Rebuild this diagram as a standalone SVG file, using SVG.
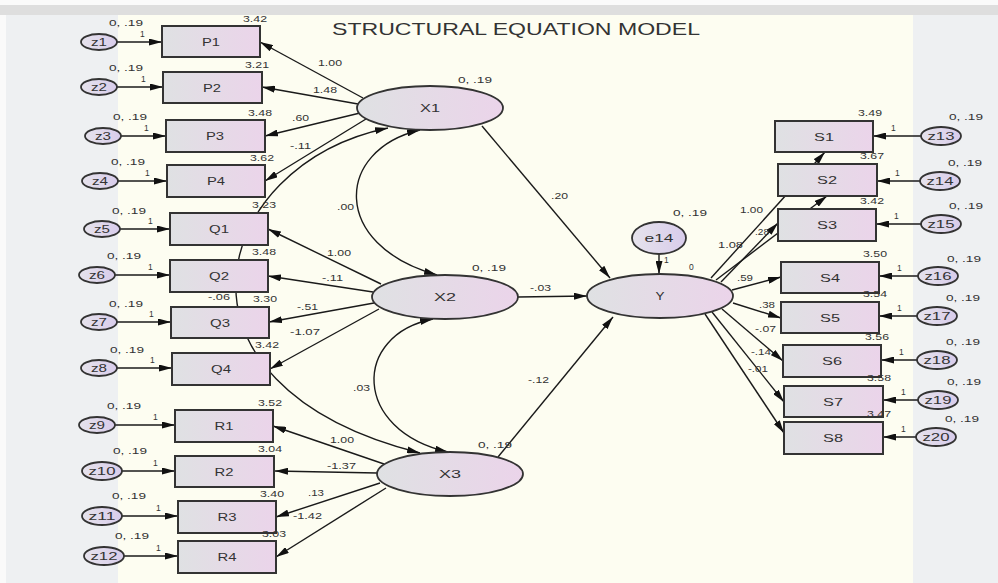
<svg xmlns="http://www.w3.org/2000/svg" width="998" height="583" viewBox="0 0 998 583">
<defs>
<linearGradient id="gb" x1="0" y1="0" x2="1" y2="0"><stop offset="0" stop-color="#dfe1e3"/><stop offset="1" stop-color="#ebd4ea"/></linearGradient>
<linearGradient id="gz" x1="0" y1="0" x2="1" y2="0"><stop offset="0" stop-color="#e6e3ec"/><stop offset="1" stop-color="#d8cceb"/></linearGradient>
<marker id="ah" viewBox="0 0 13 7" refX="13" refY="3.5" markerWidth="13" markerHeight="7" markerUnits="userSpaceOnUse" orient="auto-start-reverse"><path d="M0,0 L13,3.5 L0,7 z" fill="#111"/></marker>
<style>
text{font-family:"Liberation Sans",Arial,sans-serif;fill:#333}
.s{font-size:8.5px}
.n{font-size:11.5px;text-anchor:middle}
.box{fill:url(#gb);stroke:#333;stroke-width:2}
.lat{fill:url(#gb);stroke:#333;stroke-width:1.8}
.err{fill:url(#gz);stroke:#333;stroke-width:1.8}
.c line,.c path{stroke:#1a1a1a;stroke-width:1.4;fill:none;marker-end:url(#ah)}
.c path.cov{marker-start:url(#ah)}
</style>
</defs>
<rect width="998" height="583" fill="#eef0f2"/>
<rect width="998" height="6" fill="#fafafa"/>
<rect y="5" width="998" height="10" fill="#dedede"/>
<rect x="0" y="15" width="6" height="568" fill="#fafafa"/>
<rect x="118" y="15" width="795" height="568" fill="#fdfdf1"/>
<text x="332" y="35" font-size="17" textLength="368" lengthAdjust="spacingAndGlyphs" fill="#222">STRUCTURAL EQUATION MODEL</text>

<g id="connectors" class="c">
<line x1="117" y1="42" x2="162" y2="42"/>
<line x1="117" y1="87" x2="163" y2="87"/>
<line x1="121" y1="136" x2="166" y2="136"/>
<line x1="118" y1="181" x2="167" y2="181"/>
<line x1="120" y1="229" x2="170" y2="229"/>
<line x1="115" y1="275" x2="170" y2="275"/>
<line x1="117" y1="322" x2="171" y2="322"/>
<line x1="117" y1="368" x2="172" y2="368"/>
<line x1="115" y1="425" x2="175" y2="425"/>
<line x1="122" y1="471" x2="175" y2="471"/>
<line x1="122" y1="516" x2="178" y2="516"/>
<line x1="124" y1="556" x2="178" y2="556"/>
<line x1="363" y1="98" x2="260" y2="42"/>
<line x1="358" y1="104" x2="262" y2="87"/>
<line x1="360" y1="113" x2="265" y2="136"/>
<line x1="366" y1="119" x2="265" y2="181"/>
<line x1="381" y1="284" x2="268" y2="229"/>
<line x1="373" y1="292" x2="268" y2="276"/>
<line x1="374" y1="303" x2="269" y2="322"/>
<line x1="379" y1="309" x2="270" y2="369"/>
<line x1="384" y1="464" x2="273" y2="426"/>
<line x1="377" y1="473" x2="275" y2="471"/>
<line x1="380" y1="483" x2="276" y2="517"/>
<line x1="386" y1="488" x2="276" y2="557"/>
<path class="cov" d="M420,130 C335,150 330,245 437,275"/>
<path class="cov" d="M433,319 C352,335 352,430 448,452"/>
<path class="cov" d="M388,128 C210,165 150,385 420,453"/>
<line x1="482" y1="126" x2="610" y2="278"/>
<line x1="518" y1="297" x2="587" y2="296"/>
<line x1="498" y1="457" x2="613" y2="317"/>
<line x1="659" y1="254" x2="659" y2="274"/>
<line x1="711" y1="278" x2="825" y2="152"/>
<line x1="716" y1="280" x2="827" y2="196"/>
<line x1="721" y1="282" x2="778" y2="223"/>
<line x1="732" y1="290" x2="781" y2="277"/>
<line x1="733" y1="303" x2="781" y2="318"/>
<line x1="722" y1="309" x2="783" y2="361"/>
<line x1="712" y1="312" x2="784" y2="402"/>
<line x1="705" y1="314" x2="784" y2="433"/>
<line x1="921" y1="136" x2="873" y2="136"/>
<line x1="920" y1="181" x2="877" y2="181"/>
<line x1="921" y1="224" x2="876" y2="224"/>
<line x1="918" y1="276" x2="879" y2="276"/>
<line x1="917" y1="316" x2="879" y2="316"/>
<line x1="917" y1="360" x2="881" y2="360"/>
<line x1="918" y1="400" x2="883" y2="400"/>
<line x1="916" y1="437" x2="883" y2="437"/>
</g>

<g id="connector-labels" class="s">
<text x="140" y="37">1</text><text x="141" y="82">1</text><text x="144" y="131">1</text><text x="145" y="176">1</text>
<text x="148" y="224">1</text><text x="148" y="270">1</text><text x="149" y="317">1</text><text x="150" y="363">1</text>
<text x="153" y="420">1</text><text x="153" y="466">1</text><text x="156" y="511">1</text><text x="156" y="551">1</text>
<text x="318" y="66" textLength="24" lengthAdjust="spacingAndGlyphs">1.00</text>
<text x="313" y="93" textLength="24" lengthAdjust="spacingAndGlyphs">1.48</text>
<text x="292" y="121" textLength="17" lengthAdjust="spacingAndGlyphs">.60</text>
<text x="290" y="149" textLength="21" lengthAdjust="spacingAndGlyphs">-.11</text>
<text x="327" y="256" textLength="24" lengthAdjust="spacingAndGlyphs">1.00</text>
<text x="322" y="281" textLength="21" lengthAdjust="spacingAndGlyphs">-.11</text>
<text x="297" y="310" textLength="21" lengthAdjust="spacingAndGlyphs">-.51</text>
<text x="290" y="335" textLength="30" lengthAdjust="spacingAndGlyphs">-1.07</text>
<text x="330" y="443" textLength="24" lengthAdjust="spacingAndGlyphs">1.00</text>
<text x="327" y="469" textLength="29" lengthAdjust="spacingAndGlyphs">-1.37</text>
<text x="308" y="496" textLength="16" lengthAdjust="spacingAndGlyphs">.13</text>
<text x="293" y="519" textLength="29" lengthAdjust="spacingAndGlyphs">-1.42</text>
<text x="337" y="210" textLength="17" lengthAdjust="spacingAndGlyphs">.00</text>
<text x="353" y="391" textLength="17" lengthAdjust="spacingAndGlyphs">.03</text>
<text x="208" y="300" textLength="22" lengthAdjust="spacingAndGlyphs">-.06</text>
<text x="551" y="199" textLength="17" lengthAdjust="spacingAndGlyphs">.20</text>
<text x="530" y="291" textLength="21" lengthAdjust="spacingAndGlyphs">-.03</text>
<text x="528" y="383" textLength="21" lengthAdjust="spacingAndGlyphs">-.12</text>
<text x="664" y="263">1</text>
<text x="740" y="213" textLength="23" lengthAdjust="spacingAndGlyphs">1.00</text>
<text x="755" y="235" textLength="14" lengthAdjust="spacingAndGlyphs">.28</text>
<text x="718" y="248" textLength="25" lengthAdjust="spacingAndGlyphs">1.08</text>
<text x="737" y="281" textLength="16" lengthAdjust="spacingAndGlyphs">.59</text>
<text x="759" y="308" textLength="16" lengthAdjust="spacingAndGlyphs">.38</text>
<text x="755" y="332" textLength="21" lengthAdjust="spacingAndGlyphs">-.07</text>
<text x="751" y="355" textLength="20" lengthAdjust="spacingAndGlyphs">-.14</text>
<text x="748" y="372" textLength="20" lengthAdjust="spacingAndGlyphs">-.01</text>
<text x="891" y="131">1</text><text x="895" y="176">1</text><text x="894" y="219">1</text><text x="897" y="271">1</text>
<text x="897" y="311">1</text><text x="899" y="355">1</text><text x="901" y="395">1</text><text x="901" y="432">1</text>
</g>

<g id="z1"><ellipse class="err" cx="99" cy="42" rx="18" ry="8"/><text class="n" x="99" y="46" textLength="16" lengthAdjust="spacingAndGlyphs">z1</text><text class="s" x="109" y="26" textLength="34" lengthAdjust="spacingAndGlyphs">0, .19</text></g>
<g id="z2"><ellipse class="err" cx="99" cy="87" rx="18" ry="8"/><text class="n" x="99" y="91" textLength="16" lengthAdjust="spacingAndGlyphs">z2</text><text class="s" x="109" y="71" textLength="34" lengthAdjust="spacingAndGlyphs">0, .19</text></g>
<g id="z3"><ellipse class="err" cx="103" cy="136" rx="18" ry="8"/><text class="n" x="103" y="140" textLength="16" lengthAdjust="spacingAndGlyphs">z3</text><text class="s" x="113" y="120" textLength="34" lengthAdjust="spacingAndGlyphs">0, .19</text></g>
<g id="z4"><ellipse class="err" cx="100" cy="181" rx="18" ry="8"/><text class="n" x="100" y="185" textLength="16" lengthAdjust="spacingAndGlyphs">z4</text><text class="s" x="111" y="165" textLength="34" lengthAdjust="spacingAndGlyphs">0, .19</text></g>
<g id="z5"><ellipse class="err" cx="102" cy="229" rx="18" ry="8"/><text class="n" x="102" y="233" textLength="16" lengthAdjust="spacingAndGlyphs">z5</text><text class="s" x="112" y="214" textLength="34" lengthAdjust="spacingAndGlyphs">0, .19</text></g>
<g id="z6"><ellipse class="err" cx="97" cy="275" rx="18" ry="8"/><text class="n" x="97" y="279" textLength="16" lengthAdjust="spacingAndGlyphs">z6</text><text class="s" x="107" y="259" textLength="34" lengthAdjust="spacingAndGlyphs">0, .19</text></g>
<g id="z7"><ellipse class="err" cx="99" cy="322" rx="18" ry="8"/><text class="n" x="99" y="326" textLength="16" lengthAdjust="spacingAndGlyphs">z7</text><text class="s" x="109" y="307" textLength="34" lengthAdjust="spacingAndGlyphs">0, .19</text></g>
<g id="z8"><ellipse class="err" cx="99" cy="368" rx="18" ry="8"/><text class="n" x="99" y="372" textLength="16" lengthAdjust="spacingAndGlyphs">z8</text><text class="s" x="110" y="353" textLength="34" lengthAdjust="spacingAndGlyphs">0, .19</text></g>
<g id="z9"><ellipse class="err" cx="97" cy="425" rx="18" ry="8"/><text class="n" x="97" y="429" textLength="16" lengthAdjust="spacingAndGlyphs">z9</text><text class="s" x="107" y="409" textLength="34" lengthAdjust="spacingAndGlyphs">0, .19</text></g>
<g id="z10"><ellipse class="err" cx="102" cy="471" rx="20" ry="9"/><text class="n" x="102" y="475" textLength="27" lengthAdjust="spacingAndGlyphs">z10</text><text class="s" x="113" y="454" textLength="34" lengthAdjust="spacingAndGlyphs">0, .19</text></g>
<g id="z11"><ellipse class="err" cx="102" cy="516" rx="20" ry="9"/><text class="n" x="102" y="520" textLength="27" lengthAdjust="spacingAndGlyphs">z11</text><text class="s" x="112" y="499" textLength="34" lengthAdjust="spacingAndGlyphs">0, .19</text></g>
<g id="z12"><ellipse class="err" cx="104" cy="556" rx="20" ry="9"/><text class="n" x="104" y="560" textLength="27" lengthAdjust="spacingAndGlyphs">z12</text><text class="s" x="115" y="539" textLength="34" lengthAdjust="spacingAndGlyphs">0, .19</text></g>

<g id="P1"><rect class="box" x="162" y="26" width="98" height="31"/><text class="n" x="211" y="46" textLength="18" lengthAdjust="spacingAndGlyphs">P1</text><text class="s" x="243" y="22" textLength="24" lengthAdjust="spacingAndGlyphs">3.42</text></g>
<g id="P2"><rect class="box" x="163" y="72" width="99" height="31"/><text class="n" x="212" y="92" textLength="18" lengthAdjust="spacingAndGlyphs">P2</text><text class="s" x="245" y="68" textLength="24" lengthAdjust="spacingAndGlyphs">3.21</text></g>
<g id="P3"><rect class="box" x="166" y="120" width="99" height="32"/><text class="n" x="215" y="140" textLength="18" lengthAdjust="spacingAndGlyphs">P3</text><text class="s" x="248" y="116" textLength="24" lengthAdjust="spacingAndGlyphs">3.48</text></g>
<g id="P4"><rect class="box" x="167" y="165" width="98" height="32"/><text class="n" x="216" y="185" textLength="18" lengthAdjust="spacingAndGlyphs">P4</text><text class="s" x="250" y="161" textLength="24" lengthAdjust="spacingAndGlyphs">3.62</text></g>
<g id="Q1"><rect class="box" x="170" y="213" width="98" height="32"/><text class="n" x="219" y="233" textLength="20" lengthAdjust="spacingAndGlyphs">Q1</text><text class="s" x="252" y="208" textLength="24" lengthAdjust="spacingAndGlyphs">3.23</text></g>
<g id="Q2"><rect class="box" x="170" y="260" width="98" height="32"/><text class="n" x="219" y="280" textLength="20" lengthAdjust="spacingAndGlyphs">Q2</text><text class="s" x="252" y="255" textLength="24" lengthAdjust="spacingAndGlyphs">3.48</text></g>
<g id="Q3"><rect class="box" x="171" y="307" width="98" height="31"/><text class="n" x="220" y="327" textLength="20" lengthAdjust="spacingAndGlyphs">Q3</text><text class="s" x="253" y="302" textLength="24" lengthAdjust="spacingAndGlyphs">3.30</text></g>
<g id="Q4"><rect class="box" x="172" y="353" width="98" height="32"/><text class="n" x="221" y="373" textLength="20" lengthAdjust="spacingAndGlyphs">Q4</text><text class="s" x="255" y="348" textLength="24" lengthAdjust="spacingAndGlyphs">3.42</text></g>
<g id="R1"><rect class="box" x="175" y="410" width="98" height="32"/><text class="n" x="224" y="430" textLength="19" lengthAdjust="spacingAndGlyphs">R1</text><text class="s" x="258" y="406" textLength="24" lengthAdjust="spacingAndGlyphs">3.52</text></g>
<g id="R2"><rect class="box" x="175" y="456" width="99" height="31"/><text class="n" x="224" y="476" textLength="19" lengthAdjust="spacingAndGlyphs">R2</text><text class="s" x="258" y="452" textLength="24" lengthAdjust="spacingAndGlyphs">3.04</text></g>
<g id="R3"><rect class="box" x="178" y="501" width="98" height="32"/><text class="n" x="227" y="521" textLength="19" lengthAdjust="spacingAndGlyphs">R3</text><text class="s" x="260" y="497" textLength="24" lengthAdjust="spacingAndGlyphs">3.40</text></g>
<g id="R4"><rect class="box" x="178" y="541" width="98" height="32"/><text class="n" x="227" y="561" textLength="19" lengthAdjust="spacingAndGlyphs">R4</text><text class="s" x="262" y="537" textLength="24" lengthAdjust="spacingAndGlyphs">3.03</text></g>

<g id="X1"><ellipse class="lat" cx="430" cy="108" rx="73" ry="22"/><text class="n" x="430" y="112" textLength="20" lengthAdjust="spacingAndGlyphs">X1</text><text class="s" x="458" y="83" textLength="34" lengthAdjust="spacingAndGlyphs">0, .19</text></g>
<g id="X2"><ellipse class="lat" cx="445" cy="297" rx="73" ry="22"/><text class="n" x="445" y="301" textLength="22" lengthAdjust="spacingAndGlyphs">X2</text><text class="s" x="472" y="271" textLength="34" lengthAdjust="spacingAndGlyphs">0, .19</text></g>
<g id="X3"><ellipse class="lat" cx="450" cy="474" rx="73" ry="22"/><text class="n" x="450" y="478" textLength="22" lengthAdjust="spacingAndGlyphs">X3</text><text class="s" x="478" y="448" textLength="34" lengthAdjust="spacingAndGlyphs">0, .19</text></g>
<g id="e14"><ellipse class="err" cx="659" cy="238" rx="27" ry="16"/><text class="n" x="659" y="242" textLength="29" lengthAdjust="spacingAndGlyphs">e14</text><text class="s" x="673" y="216" textLength="34" lengthAdjust="spacingAndGlyphs">0, .19</text></g>
<g id="Y"><ellipse class="lat" cx="660" cy="296" rx="73" ry="22"/><text class="n" x="660" y="300" textLength="9" lengthAdjust="spacingAndGlyphs">Y</text><text class="s" x="689" y="270">0</text></g>

<g id="S1"><rect class="box" x="775" y="121" width="98" height="31"/><text class="n" x="824" y="141" textLength="20" lengthAdjust="spacingAndGlyphs">S1</text><text class="s" x="858" y="116" textLength="24" lengthAdjust="spacingAndGlyphs">3.49</text></g>
<g id="S2"><rect class="box" x="778" y="164" width="99" height="32"/><text class="n" x="827" y="184" textLength="20" lengthAdjust="spacingAndGlyphs">S2</text><text class="s" x="860" y="159" textLength="24" lengthAdjust="spacingAndGlyphs">3.67</text></g>
<g id="S3"><rect class="box" x="778" y="209" width="98" height="32"/><text class="n" x="827" y="229" textLength="20" lengthAdjust="spacingAndGlyphs">S3</text><text class="s" x="860" y="204" textLength="24" lengthAdjust="spacingAndGlyphs">3.42</text></g>
<g id="S4"><rect class="box" x="781" y="262" width="98" height="31"/><text class="n" x="830" y="282" textLength="20" lengthAdjust="spacingAndGlyphs">S4</text><text class="s" x="863" y="257" textLength="24" lengthAdjust="spacingAndGlyphs">3.50</text></g>
<g id="S5"><rect class="box" x="781" y="302" width="98" height="31"/><text class="n" x="830" y="322" textLength="20" lengthAdjust="spacingAndGlyphs">S5</text><text class="s" x="863" y="297" textLength="24" lengthAdjust="spacingAndGlyphs">3.54</text></g>
<g id="S6"><rect class="box" x="783" y="345" width="98" height="32"/><text class="n" x="832" y="365" textLength="20" lengthAdjust="spacingAndGlyphs">S6</text><text class="s" x="865" y="340" textLength="24" lengthAdjust="spacingAndGlyphs">3.56</text></g>
<g id="S7"><rect class="box" x="784" y="386" width="99" height="31"/><text class="n" x="833" y="406" textLength="20" lengthAdjust="spacingAndGlyphs">S7</text><text class="s" x="867" y="381" textLength="24" lengthAdjust="spacingAndGlyphs">3.58</text></g>
<g id="S8"><rect class="box" x="784" y="422" width="99" height="32"/><text class="n" x="833" y="442" textLength="20" lengthAdjust="spacingAndGlyphs">S8</text><text class="s" x="867" y="417" textLength="24" lengthAdjust="spacingAndGlyphs">3.47</text></g>

<g id="z13"><ellipse class="err" cx="941" cy="136" rx="20" ry="9"/><text class="n" x="941" y="140" textLength="27" lengthAdjust="spacingAndGlyphs">z13</text><text class="s" x="949" y="120" textLength="34" lengthAdjust="spacingAndGlyphs">0, .19</text></g>
<g id="z14"><ellipse class="err" cx="940" cy="181" rx="20" ry="9"/><text class="n" x="940" y="185" textLength="27" lengthAdjust="spacingAndGlyphs">z14</text><text class="s" x="948" y="166" textLength="34" lengthAdjust="spacingAndGlyphs">0, .19</text></g>
<g id="z15"><ellipse class="err" cx="941" cy="224" rx="20" ry="9"/><text class="n" x="941" y="228" textLength="27" lengthAdjust="spacingAndGlyphs">z15</text><text class="s" x="949" y="209" textLength="34" lengthAdjust="spacingAndGlyphs">0, .19</text></g>
<g id="z16"><ellipse class="err" cx="938" cy="276" rx="20" ry="9"/><text class="n" x="938" y="280" textLength="27" lengthAdjust="spacingAndGlyphs">z16</text><text class="s" x="947" y="262" textLength="34" lengthAdjust="spacingAndGlyphs">0, .19</text></g>
<g id="z17"><ellipse class="err" cx="937" cy="316" rx="20" ry="9"/><text class="n" x="937" y="320" textLength="27" lengthAdjust="spacingAndGlyphs">z17</text><text class="s" x="946" y="301" textLength="34" lengthAdjust="spacingAndGlyphs">0, .19</text></g>
<g id="z18"><ellipse class="err" cx="937" cy="360" rx="20" ry="9"/><text class="n" x="937" y="364" textLength="27" lengthAdjust="spacingAndGlyphs">z18</text><text class="s" x="946" y="345" textLength="34" lengthAdjust="spacingAndGlyphs">0, .19</text></g>
<g id="z19"><ellipse class="err" cx="938" cy="400" rx="20" ry="9"/><text class="n" x="938" y="404" textLength="27" lengthAdjust="spacingAndGlyphs">z19</text><text class="s" x="947" y="385" textLength="34" lengthAdjust="spacingAndGlyphs">0, .19</text></g>
<g id="z20"><ellipse class="err" cx="936" cy="437" rx="20" ry="9"/><text class="n" x="936" y="441" textLength="27" lengthAdjust="spacingAndGlyphs">z20</text><text class="s" x="945" y="422" textLength="34" lengthAdjust="spacingAndGlyphs">0, .19</text></g>
</svg>
